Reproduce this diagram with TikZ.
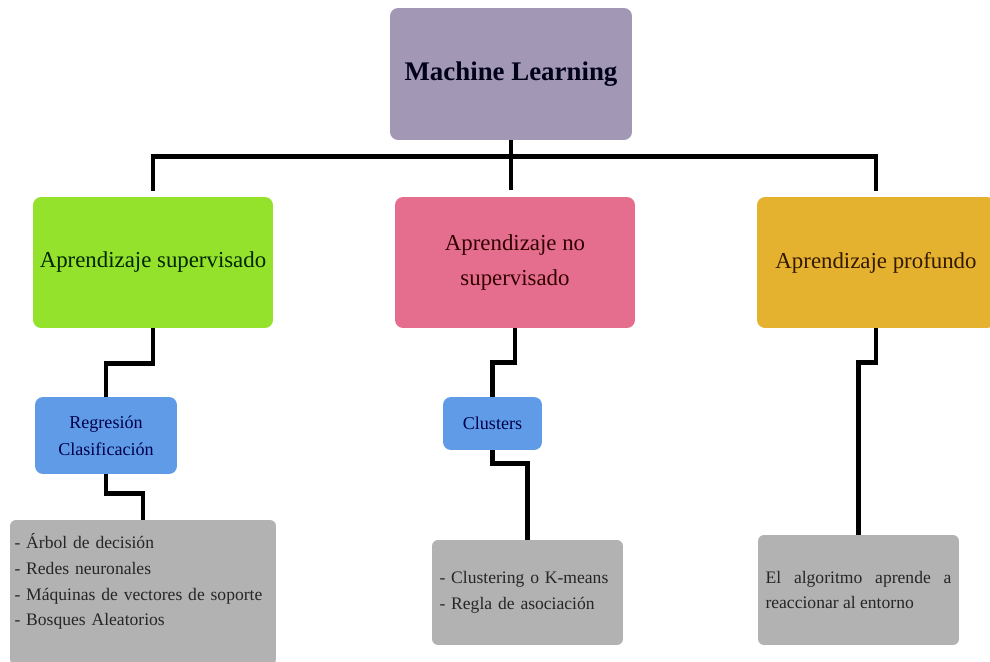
\documentclass[tikz,border=0pt]{standalone}
\usepackage{fontspec}
\setmainfont{Liberation Serif}
\usepackage{tikz}

\definecolor{mlfill}{RGB}{162,152,182}
\definecolor{supfill}{RGB}{149,226,44}
\definecolor{nosupfill}{RGB}{229,110,143}
\definecolor{deepfill}{RGB}{229,178,48}
\definecolor{taskfill}{RGB}{95,155,230}
\definecolor{algofill}{RGB}{178,178,178}

\begin{document}
\begin{tikzpicture}[x=0.02cm, y=-0.02cm,
  box/.style={rounded corners=0.16cm, inner sep=0pt, align=center},
  mlbox/.style={box, fill=mlfill, minimum width=4.84cm, minimum height=2.64cm,
    text=black!90!blue, font=\fontsize{15.3}{18}\selectfont\bfseries},
  branch/.style={box, minimum width=4.8cm, minimum height=2.62cm,
    font=\fontsize{13}{20}\selectfont},
  task/.style={box, fill=taskfill, text=blue!30!black, minimum height=1.06cm,
    font=\fontsize{10.3}{15.3}\selectfont},
  algo/.style={box, fill=algofill, text=black!85, rounded corners=0.12cm,
    inner xsep=0.15cm, align=left, font=\fontsize{10}{14.7}\selectfont},
  wire/.style={line width=2.8pt}]

  \useasboundingbox (0,0) rectangle (990,662);

  % top level
  \node[mlbox, name=ml] at (511,74) {Machine Learning};

  % learning types
  \node[branch, fill=supfill, text=green!15!black, name=sup] at (153,262.5) {Aprendizaje supervisado};
  \node[branch, fill=nosupfill, text=red!20!black, name=nosup] at (515,262.5) {Aprendizaje no\\supervisado};
  \node[branch, fill=deepfill, text=orange!20!black, minimum width=4.76cm, name=deep] at (876,262.5) {Aprendizaje profundo};

  % tasks
  \node[task, minimum width=2.84cm, minimum height=1.54cm, name=regr] at (106,435.5) {Regresión\\Clasificación};
  \node[task, minimum width=1.98cm, name=clus] at (492.5,423.5) {Clusters};

  % algorithms
  \node[algo, inner xsep=0.09cm, text width=5.14cm, minimum height=2.9cm, name=supalgo] at (143,592.5)
    {- Árbol de decisión\\- Redes neuronales\\- Máquinas de vectores de soporte\\- Bosques Aleatorios\\~};
  \node[algo, text width=3.52cm, minimum height=2.1cm, name=clusalgo] at (527.5,592.5)
    {- Clustering o K-means\\- Regla de asociación};
  \node[algo, text width=3.72cm, minimum height=2.2cm, align=justify, name=deepalgo] at (858.5,590)
    {El algoritmo aprende a reaccionar al entorno};

  % connectors
  \draw[wire, shorten >=0.14cm] (ml.south) -- (ml.south |- nosup.north);
  \draw[wire, shorten <=0.12cm, shorten >=0.12cm] (sup.north) -- ++(0,-40) -| (deep.north);
  \draw[wire] (sup.south) -- ++(0,35) -| (regr.north);
  \draw[wire] (regr.south) -- ++(0,19) -| (supalgo.north);
  \draw[wire] (nosup.south) -- ++(0,34) -| (clus.north);
  \draw[wire] (clus.south) -- ++(0,13) -| (clusalgo.north);
  \draw[wire] (deep.south) -- ++(0,34) -| (deepalgo.north);

\end{tikzpicture}
\end{document}
